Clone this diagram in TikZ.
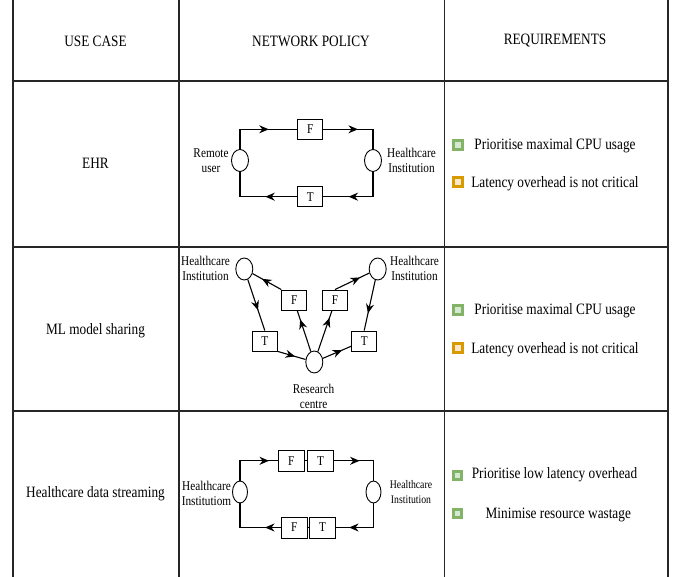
\documentclass[tikz,border=0pt]{standalone}
\usepackage{fontspec}
\setmainfont{Liberation Serif}[FakeStretch=0.84]
\usetikzlibrary{shapes.geometric,arrows.meta,decorations.markings,calc}
\definecolor{grnS}{HTML}{82B366}
\definecolor{grnF}{HTML}{D5E8D4}
\definecolor{orgS}{HTML}{D79B00}
\definecolor{orgF}{HTML}{FFE6CC}
\tikzset{
  tblline/.style={black!85, line width=1.1pt},
  hdr/.style={font=\fontsize{15.8}{17}\selectfont, inner sep=0},
  req/.style={font=\fontsize{15.8}{17}\selectfont, inner sep=0, anchor=center},
  lbl/.style={font=\fontsize{13.4}{15}\selectfont, align=center, inner sep=0},
  lblsmall/.style={font=\fontsize{11.6}{15}\selectfont, align=center, inner sep=0},
  fbox/.style={draw, line width=0.9pt, minimum width=25pt, minimum height=20pt, inner sep=0, font=\fontsize{13.4}{14}\selectfont},
  wbox/.style={fbox, minimum width=26.5pt, minimum height=21pt},
  hnode/.style={draw, ellipse, line width=0.9pt, minimum width=17pt, minimum height=22pt, inner sep=0},
  conn/.style={line width=1.1pt, postaction={decorate},
    decoration={markings, mark=at position #1 with {\arrow{Stealth[length=9.5pt,width=8pt]}}}},
  gsq/.style={draw=grnS, fill=grnF, line width=3pt, minimum size=8.5pt, inner sep=0},
  osq/.style={draw=orgS, fill=orgF, line width=3pt, minimum size=8.5pt, inner sep=0},
}
\begin{document}
\begin{tikzpicture}[x=1pt, y=-1pt]
\useasboundingbox (0,0) rectangle (673,577);
\fill[white] (0,0) rectangle (673,577);
% table grid
\draw[tblline] (13,0) -- (13,577);
\draw[tblline] (179,0) -- (179,577);
\draw[tblline] (444.5,0) -- (444.5,577);
\draw[tblline] (668,0) -- (668,577);
\draw[tblline] (13,81) -- (668,81);
\draw[tblline] (13,247) -- (668,247);
\draw[tblline] (13,411) -- (668,411);
% headers
\node[hdr] (h1) at (95.5,41) {USE CASE};
\node[hdr] (h2) at (311,41) {NETWORK POLICY};
\node[hdr] (h3) at (555,41) {REQUIREMENTS};
% use cases
\node[hdr] (u1) at (95.5,163) {EHR};
\node[hdr] (u2) at (95.5,331) {ML model sharing};
\node[hdr] (u3) at (95.5,494) {Healthcare data streaming};

% ---------- EHR policy ----------
\node[hnode] (eL) at (240,160.5) {};
\node[hnode] (eR) at (373,160.5) {};
\node[fbox] (eF) at (310.2,129.3) {F};
\node[fbox] (eT) at (310.2,196.7) {T};
\node[lbl] (eLl) at (211,160.5) {Remote\\user};
\node[lbl] (eRl) at (411.5,160.5) {Healthcare\\Institution};
\draw[conn=0.63] (eL.north) |- (eF.west);
\draw[conn=0.5] (eF.east) -| (eR.north);
\draw[conn=0.66] (eR.south) |- (eT.east);
\draw[conn=0.39] (eT.west) -| (eL.south);

% ---------- ML sharing policy ----------
\node[hnode] (mHL) at (244.3,269) {};
\node[hnode] (mHR) at (377.7,269) {};
\node[hnode] (mRC) at (314.3,362) {};
\node[fbox] (mFL) at (294.2,300) {F};
\node[fbox] (mFR) at (335,300) {F};
\node[fbox] (mTL) at (264.8,341) {T};
\node[fbox] (mTR) at (364.2,341) {T};
\node[lbl] (mHLl) at (205.5,268.5) {Healthcare\\Institution};
\node[lbl] (mHRl) at (414.5,268.5) {Healthcare\\Institution};
\node[lbl] (mRCl) at (313.5,396) {Research\\centre};
\draw[conn=0.6] (mHL) -- (mTL.north);
\draw[conn=0.62] (mTL.south east) -- (mRC);
\draw[conn=0.78] (mRC) -- ($(mFL.south)+(3,0)$);
\draw[conn=0.67] (mFL.north west) -- (mHL);
\draw[conn=0.82] (mRC) -- ($(mFR.south)+(-3,0)$);
\draw[conn=0.73] (mFR.north) -- (mHR);
\draw[conn=0.66] (mHR) -- (mTR.north);
\draw[conn=0.68] (mRC) -- ($(mTR.west)!0.5!(mTR.south west)$);

% ---------- Streaming policy ----------
\node[hnode, minimum width=15pt] (sL) at (240,492) {};
\node[hnode, minimum width=15pt] (sR) at (373.5,492) {};
\node[wbox] (sF1) at (291.3,460.8) {F};
\node[wbox] (sT1) at (320.5,460.8) {T};
\node[wbox] (sF2) at (294.2,527.5) {F};
\node[wbox] (sT2) at (322.5,527.5) {T};
\node[lbl] (sLl) at (206.5,493) {Healthcare\\Institutiom};
\node[lblsmall] (sRl) at (411,492) {Healthcare\\Institution};
\draw[conn=0.85] (sL.north) |- (sF1.west);
\draw[line width=1.1pt] (sF1.east) -- (sT1.west);
\draw[conn=0.43] (sT1.east) -| (sR.north);
\draw[conn=0.79] (sR.south) |- (sT2.east);
\draw[line width=1.1pt] (sT2.west) -- (sF2.east);
\draw[conn=0.24] (sF2.west) -| (sL.south);

% ---------- Requirements ----------
\node[gsq] (q1a) at (458,145) {};
\node[req] (r1a) at (555,146) {Prioritise maximal CPU usage};
\node[osq] (q1b) at (458,182) {};
\node[req] (r1b) at (555,184) {Latency overhead is not critical};
\node[gsq] (q2a) at (458,310) {};
\node[req] (r2a) at (555,311) {Prioritise maximal CPU usage};
\node[osq] (q2b) at (458,348) {};
\node[req] (r2b) at (555,350) {Latency overhead is not critical};
\node[gsq] (q3a) at (457.7,475.3) {};
\node[req] (r3a) at (554.5,474.3) {Prioritise low latency overhead};
\node[gsq] (q3b) at (457.7,513.3) {};
\node[req] (r3b) at (558.3,515) {Minimise resource wastage};
\end{tikzpicture}
\end{document}
